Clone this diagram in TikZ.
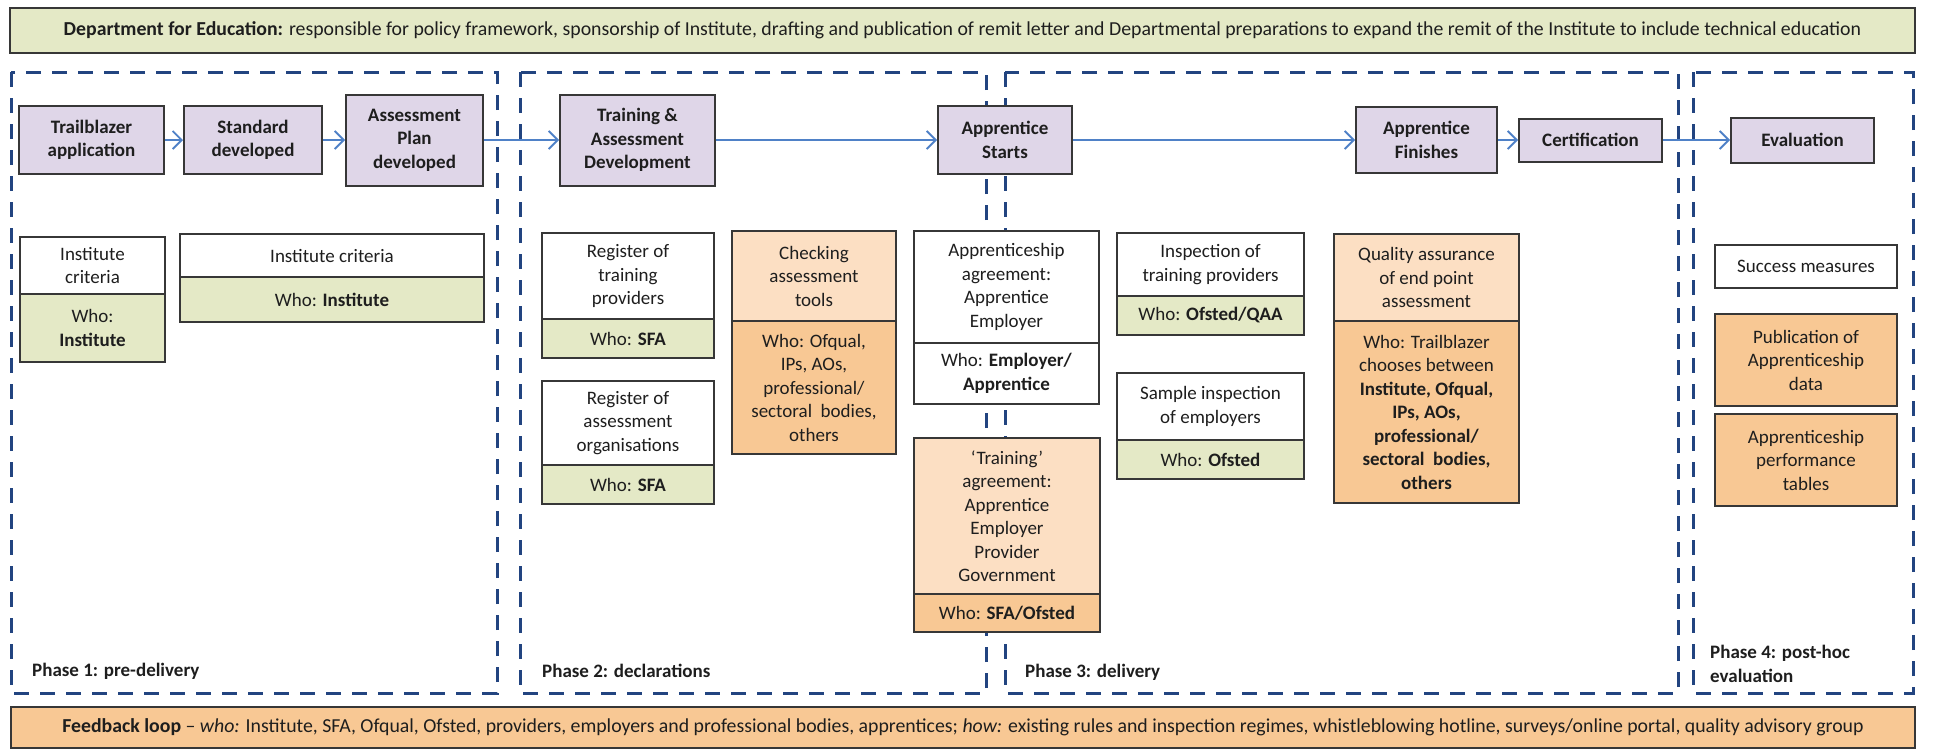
\documentclass[tikz,border=0pt]{standalone}
\usepackage{fontspec}
\setmainfont{Carlito}
\usetikzlibrary{arrows.meta}
\definecolor{boxline}{RGB}{55,55,55}
\definecolor{textc}{RGB}{30,30,30}
\definecolor{dashc}{RGB}{34,68,128}
\definecolor{arrowc}{RGB}{79,129,199}
\definecolor{purplef}{RGB}{223,214,232}
\definecolor{greenf}{RGB}{228,233,198}
\definecolor{lorange}{RGB}{252,223,195}
\definecolor{dorange}{RGB}{248,200,148}
\newcommand\bodyfs{\fontsize{19}{23.5}\selectfont}
\newcommand\barfs{\fontsize{19.8}{23.5}\selectfont}
\tikzset{
  cell/.style={draw=boxline, line width=2pt, inner sep=2pt, align=center, anchor=north west, font=\bodyfs, text=textc},
  wcell/.style={cell, fill=white},
  gcell/.style={cell, fill=greenf},
  lcell/.style={cell, fill=lorange},
  dcell/.style={cell, fill=dorange},
  pur/.style={draw=boxline, line width=2pt, fill=purplef, align=center, font=\bodyfs\bfseries, text=textc, inner sep=2pt, anchor=center, minimum height=68pt},
  phasebox/.style={draw=dashc, line width=3pt, dash pattern=on 15pt off 11pt},
  phaselabel/.style={anchor=west, align=left, font=\bodyfs\bfseries, text=textc, inner sep=0pt},
  arr/.style={draw=arrowc, line width=1.8pt, -{Straight Barb[length=9pt,width=18pt,line width=1.8pt]}},
  bar/.style={draw=boxline, line width=2pt, align=center, font=\barfs, text=textc, inner sep=0pt, anchor=center}
}
\begin{document}
\begin{tikzpicture}[x=1pt,y=-1pt]
\fill[white] (0,0) rectangle (1952,755);
\useasboundingbox (0,0) rectangle (1952,755);

% phase regions
\draw[phasebox] (11,72) rectangle (497,693);
\draw[phasebox] (520,72) rectangle (986,693);
\draw[phasebox] (1005,72) rectangle (1678,693);
\draw[phasebox] (1693,72) rectangle (1913,693);

\node[phaselabel] (ph1) at (32,671) {Phase 1: pre-delivery};
\node[phaselabel] (ph2) at (542,671) {Phase 2: declarations};
\node[phaselabel] (ph3) at (1025,672) {Phase 3: delivery};
\node[phaselabel] (ph4) at (1710,664) {Phase 4: post-hoc\\evaluation};

% top and bottom bars
\node[bar, fill=greenf, minimum width=1905pt, minimum height=45pt] (dfe) at (962.5,30.5)
  {\textbf{Department for Education:} responsible for policy framework, sponsorship of Institute, drafting and publication of remit letter and Departmental preparations to expand the remit of the Institute to include technical education};
\node[bar, fill=dorange, minimum width=1904pt, minimum height=41pt] (fb) at (963,727.5)
  {\textbf{Feedback loop} – \textit{who:} Institute, SFA, Ofqual, Ofsted, providers, employers and professional bodies, apprentices; \textit{how:} existing rules and inspection regimes, whistleblowing hotline, surveys/online portal, quality advisory group};

% top row process boxes
\node[pur, minimum width=145pt] (trail) at (91.5,140) {Trailblazer\\application};
\node[pur, minimum width=138pt] (std) at (253,140) {Standard\\developed};
\node[pur, minimum width=137pt, minimum height=91pt] (ap) at (414.5,140) {Assessment\\Plan\\developed};
\node[pur, minimum width=155pt, minimum height=91pt] (tad) at (637.5,140) {Training \&\\Assessment\\Development};
\node[pur, minimum width=134pt] (starts) at (1005,140) {Apprentice\\Starts};
\node[pur, minimum width=141pt, minimum height=66pt] (fin) at (1426.5,140) {Apprentice\\Finishes};
\node[pur, minimum width=143pt, minimum height=43pt] (cert) at (1590.5,140) {Certification};
\node[pur, minimum width=143pt, minimum height=45pt] (eval) at (1802.5,140) {Evaluation};

\draw[arr] (trail) -- (std);
\draw[arr] (std) -- (ap);
\draw[arr] (ap) -- (tad);
\draw[arr] (tad) -- (starts);
\draw[arr] (starts) -- (fin);
\draw[arr] (fin) -- (cert);
\draw[arr] (cert) -- (eval);

% phase 1 boxes
\node[wcell, minimum width=145pt, minimum height=57pt] (inst1t) at (19,236) {Institute\\criteria};
\node[gcell, minimum width=145pt, minimum height=68pt] (inst1b) at (19,293) {Who:\\\textbf{Institute}};
\node[wcell, minimum width=304pt, minimum height=43pt] (inst2t) at (179,233) {Institute criteria};
\node[gcell, minimum width=304pt, minimum height=45pt] (inst2b) at (179,276) {Who: \textbf{Institute}};

% phase 2 boxes
\node[wcell, minimum width=172pt, minimum height=86pt] (regtpt) at (541,232) {Register of\\training\\providers};
\node[gcell, minimum width=172pt, minimum height=39pt] (regtpb) at (541,318) {Who: \textbf{SFA}};
\node[wcell, minimum width=172pt, minimum height=84pt] (regaot) at (541,380) {Register of\\assessment\\organisations};
\node[gcell, minimum width=172pt, minimum height=39pt] (regaob) at (541,464) {Who: \textbf{SFA}};
\node[lcell, minimum width=164pt, minimum height=90pt] (chkt) at (731,230) {Checking\\assessment\\tools};
\node[dcell, minimum width=164pt, minimum height=133pt] (chkb) at (731,320) {Who: Ofqual,\\IPs, AOs,\\professional/\\sectoral\ \ bodies,\\others};

% agreement boxes
\node[wcell, minimum width=185pt, minimum height=112pt] (appagt) at (913,230) {Apprenticeship\\agreement:\\Apprentice\\Employer};
\node[wcell, minimum width=185pt, minimum height=61pt] (appagb) at (913,342) {Who: \textbf{Employer/}\\\textbf{Apprentice}};
\node[lcell, minimum width=186pt, minimum height=156pt] (tragt) at (913,437) {‘Training’\\agreement:\\Apprentice\\Employer\\Provider\\Government};
\node[dcell, minimum width=186pt, minimum height=38pt] (tragb) at (913,593) {Who: \textbf{SFA/Ofsted}};

% phase 3 boxes
\node[wcell, minimum width=187pt, minimum height=63pt] (insptpt) at (1116,232) {Inspection of\\training providers};
\node[gcell, minimum width=187pt, minimum height=39pt] (insptpb) at (1116,295) {Who: \textbf{Ofsted/QAA}};
\node[wcell, minimum width=187pt, minimum height=67pt] (samplt) at (1116,372) {Sample inspection\\of employers};
\node[gcell, minimum width=187pt, minimum height=39pt] (samplb) at (1116,439) {Who: \textbf{Ofsted}};
\node[lcell, minimum width=185pt, minimum height=87pt] (qat) at (1333,233) {Quality assurance\\of end point\\assessment};
\node[dcell, minimum width=185pt, minimum height=182pt] (qab) at (1333,320) {Who: Trailblazer\\chooses between\\\textbf{Institute, Ofqual,}\\\textbf{IPs, AOs,}\\\textbf{professional/}\\\textbf{sectoral\ \ bodies,}\\\textbf{others}};

% phase 4 boxes
\node[wcell, minimum width=182pt, minimum height=43pt] (succ) at (1714,244) {Success measures};
\node[dcell, minimum width=182pt, minimum height=92pt] (pub) at (1714,313) {Publication of\\Apprenticeship\\data};
\node[dcell, minimum width=182pt, minimum height=92pt] (perf) at (1714,413) {Apprenticeship\\performance\\tables};
\end{tikzpicture}
\end{document}
